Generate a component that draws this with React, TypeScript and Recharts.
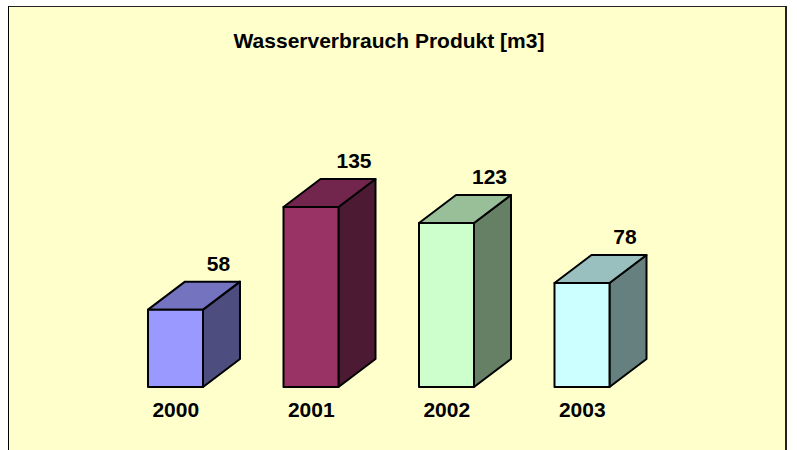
import React from "react";
import { BarChart, Bar, XAxis, YAxis, LabelList, Customized } from "recharts";

const years = ["2000", "2001", "2002", "2003"];
const values = [58, 135, 123, 78];
const frontColors = ["#9999FF", "#993366", "#CCFFCC", "#CCFFFF"];
const topColors = ["#7373BF", "#73264D", "#99BF99", "#99BFBF"];
const sideColors = ["#4D4D80", "#4D1A33", "#668066", "#668080"];
const title = "Wasserverbrauch Produkt [m3]";

const data = years.map((y, i) => ({ year: y, value: values[i] }));

const FONT = "'Liberation Sans', Arial, Helvetica, sans-serif";
const DX = 37;
const DY = 28;

const Box3D = (props: any) => {
  const { x, y, width, height, index } = props;
  const i = index ?? 0;
  const r = x + width;
  const b = y + height;
  const topPts = `${x},${y} ${x + DX},${y - DY} ${r + DX},${y - DY} ${r},${y}`;
  const sidePts = `${r},${y} ${r + DX},${y - DY} ${r + DX},${b - DY} ${r},${b}`;
  return (
    <g>
      <polygon points={sidePts} fill={sideColors[i]} stroke="#000" strokeWidth={2} strokeLinejoin="round" />
      <polygon points={topPts} fill={topColors[i]} stroke="#000" strokeWidth={2} strokeLinejoin="round" />
      <rect x={x} y={y} width={width} height={height} fill={frontColors[i]} stroke="#000" strokeWidth={2} strokeLinejoin="round" />
    </g>
  );
};

const ValueLabel = (props: any) => {
  const { x, y, width, value } = props;
  return (
    <text x={x + width / 2 + 43} y={y - 39} textAnchor="middle" fontFamily={FONT} fontWeight="bold" fontSize={21} fill="#000">
      {value}
    </text>
  );
};

const YearTick = (props: any) => {
  const { x, y, payload } = props;
  return (
    <text x={x} y={y + 30} textAnchor="middle" fontFamily={FONT} fontWeight="bold" fontSize={21} fill="#000">
      {payload.value}
    </text>
  );
};

const Title = () => (
  <text x={389} y={48} textAnchor="middle" fontFamily={FONT} fontWeight="bold" fontSize={21} fill="#000">
    {title}
  </text>
);

export default function App() {
  return (
    <div style={{ position: "absolute", left: 0, top: 0, width: 797, height: 450, overflow: "hidden", background: "#FFFFFF" }}>
      <div
        style={{
          position: "absolute",
          left: 8,
          top: 6,
          width: 776,
          height: 460,
          background: "#FFFFCC",
          borderLeft: "1px solid #000",
          borderTop: "1px solid #222",
          borderRight: "2px solid #222",
        }}
      />
      <div style={{ position: "absolute", left: 0, top: 0 }}>
        <BarChart width={797} height={450} data={data} margin={{ top: 187, right: 147, bottom: 23, left: 108 }} barCategoryGap={0}>
          <XAxis dataKey="year" axisLine={false} tickLine={false} tickSize={0} tickMargin={0} height={40} tick={<YearTick />} interval={0} />
          <YAxis hide domain={[0, 150]} />
          <Bar dataKey="value" barSize={55} isAnimationActive={false} shape={<Box3D />}>
            <LabelList dataKey="value" content={<ValueLabel />} />
          </Bar>
          <Customized component={<Title />} />
        </BarChart>
      </div>
    </div>
  );
}
